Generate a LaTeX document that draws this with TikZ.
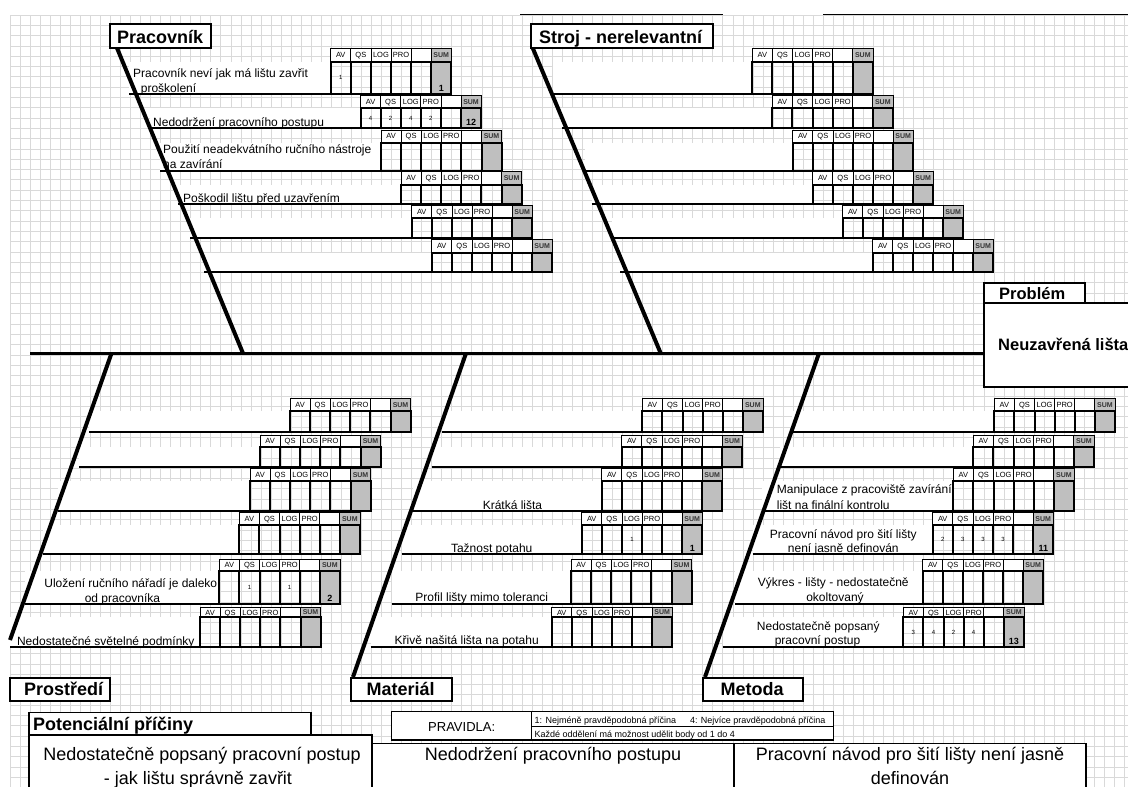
\documentclass[tikz,border=0pt]{standalone}
\usepackage{fontspec}
\setmainfont{Liberation Sans}
\usetikzlibrary{calc}

% width of one score column
\newcommand\colw{20.1}

% one cause row: #1 name, #2 left end of the branch line, #3 left edge of the score table,
% #4 top of the header row, #5 bottom of the header row, #6 branch line (bottom of the value row)
\newcommand\causerow[6]{%
  \fill[white] (#2,#5) rectangle (#3,#6);
  \coordinate (#1-a) at (#2,#6);
  \coordinate (#1-b) at ({#3+6*\colw},#6);
  \draw[branch] (#1-a) -- (#1-b);
  \foreach \ci/\lab in {0/AV,1/QS,2/LOG,3/PRO,4/{}}{%
    \draw[hdrcell] ({#3+\ci*\colw},#4) rectangle ({#3+(\ci+1)*\colw},#5);
    \node[hdrtext] (#1-h\ci) at ({#3+(\ci+0.5)*\colw},{(#4+#5)/2}) {\lab};
  }
  \draw[sumhdr] ({#3+5*\colw},#4) rectangle ({#3+6*\colw},#5);
  \node[sumtext] (#1-h5) at ({#3+5.5*\colw},{(#4+#5)/2}) {SUM};
  \foreach \ci in {0,...,4}{%
    \draw[valcell] ({#3+\ci*\colw},#5) rectangle ({#3+(\ci+1)*\colw},#6);
    \coordinate (#1-v\ci) at ({#3+(\ci+0.5)*\colw},{(#5+#6)/2});
  }
  \draw[sumval] ({#3+5*\colw},#5) rectangle ({#3+6*\colw},#6);
  \coordinate (#1-s) at ({#3+5.5*\colw},{#6-2.5});
}

\begin{document}
\begin{tikzpicture}[x=1pt,y=-1pt,
  gridline/.style={draw=black!15,line width=0.7pt},
  bone/.style={line width=4pt},
  spine/.style={line width=3.5pt},
  branch/.style={line width=2pt},
  hdrcell/.style={draw=black,line width=0.8pt,fill=white},
  sumhdr/.style={hdrcell,fill=black!25},
  valcell/.style={draw=black,line width=2pt},
  sumval/.style={valcell,fill=black!25},
  hdrtext/.style={font=\fontsize{7.5}{8}\selectfont,inner sep=0pt,text height=5.4pt,text depth=0pt},
  sumtext/.style={font=\bfseries\fontsize{7}{8}\selectfont,inner sep=0pt,text=black!80,text height=5pt,text depth=0pt},
  valtext/.style={font=\fontsize{6}{7}\selectfont,inner sep=0pt,text height=4.3pt,text depth=0pt},
  sumnum/.style={font=\bfseries\fontsize{9}{10}\selectfont,inner sep=0pt,anchor=base},
  cause/.style={font=\fontsize{12}{14}\selectfont,inner sep=0pt,anchor=base},
  causel/.style={cause,anchor=base west},
  catbox/.style={draw=black,line width=1.8pt,fill=white},
  catlabel/.style={font=\bfseries\fontsize{18}{20}\selectfont,inner sep=0pt,anchor=base west},
  probbox/.style={draw=black,line width=1.3pt,fill=white},
  problabel/.style={font=\bfseries\fontsize{16.5}{18}\selectfont,inner sep=0pt,anchor=base west},
  tblbox/.style={draw=black,line width=1.3pt,fill=white},
  bigtext/.style={font=\fontsize{18}{20}\selectfont,inner sep=0pt,anchor=base},
  ruletext/.style={font=\fontsize{9}{10}\selectfont,inner sep=0pt,anchor=base west},
]
\clip (0,0) rectangle (1128,787);
\fill[white] (0,0) rectangle (1128,787);

% sheet grid
\foreach \i in {0,...,111} \draw[gridline] ({10+\i*10.04},15) -- ({10+\i*10.04},787);
\foreach \j in {0,...,75} \draw[gridline] (10,{15+\j*10.3}) -- (1128,{15+\j*10.3});
\draw[line width=0.8pt] (520,14.7) -- (723,14.7);
\draw[line width=0.8pt] (823,14.7) -- (1128,14.7);

% ---------- Pracovník ----------
\causerow{pr1}{129}{330.7}{48.7}{61.5}{93.7}
\causerow{pr2}{150}{360.5}{95.5}{108.3}{128}
\causerow{pr3}{160}{381}{130}{142.5}{170.7}
\causerow{pr4}{178}{401}{171.7}{184.5}{204.2}
\causerow{pr5}{190}{411.7}{205.8}{218.2}{238}
\causerow{pr6}{204}{431.7}{239.7}{252.5}{272}

% ---------- Stroj ----------
\causerow{st1}{553}{752.3}{48.7}{61.5}{93.7}
\causerow{st2}{561.7}{772.3}{95.5}{108.3}{128}
\causerow{st3}{585}{792.7}{130}{142.5}{170.7}
\causerow{st4}{591.7}{812.7}{171.7}{184.5}{204.2}
\causerow{st5}{612}{842.7}{205.8}{218.2}{238}
\causerow{st6}{620}{872.7}{239.7}{252.5}{272}

% ---------- Prostředí ----------
\causerow{ps1}{89.3}{290}{398.5}{410.7}{432.3}
\causerow{ps2}{79.3}{260}{435.5}{446.7}{467.3}
\causerow{ps3}{58.3}{250}{468.8}{481}{510.7}
\causerow{ps4}{42.7}{239.3}{512.5}{525}{554.3}
\causerow{ps5}{25}{219.3}{559.5}{571}{603.7}
\causerow{ps6}{10}{200}{607.3}{617.3}{646.7}

% ---------- Materiál ----------
\causerow{ma1}{441.7}{642.3}{398.5}{410.7}{432.3}
\causerow{ma2}{431.7}{621.7}{435.5}{446.7}{467.3}
\causerow{ma3}{413.3}{601.7}{468.8}{481}{510.7}
\causerow{ma4}{401.7}{581.7}{512.5}{525}{554.3}
\causerow{ma5}{391.7}{571}{559.5}{571}{603.7}
\causerow{ma6}{370.7}{551.7}{607.3}{617.3}{646.7}

% ---------- Metoda ----------
\causerow{me1}{792}{994.3}{398.5}{410.7}{432.3}
\causerow{me2}{780}{973.3}{435.5}{446.7}{467.3}
\causerow{me3}{761.7}{953.3}{468.8}{481}{510.7}
\causerow{me4}{752.7}{932.7}{512.5}{525}{554.3}
\causerow{me5}{735}{922.7}{559.5}{571}{603.7}
\causerow{me6}{722.7}{903.3}{607.3}{617.3}{646.7}

% cause texts
\node[causel] (c-pr1a) at (133,77.5) {Pracovník neví jak má lištu zavřit};
\node[causel] (c-pr1b) at (140.7,92) {proškolení};
\node[causel] (c-pr2) at (153,126) {Nedodržení pracovního postupu};
\node[causel] (c-pr3a) at (163,153.5) {Použití neadekvátního ručního nástroje};
\node[causel] (c-pr3b) at (163,168.5) {na zavírání};
\node[causel] (c-pr4) at (183,202) {Poškodil lištu před uzavřením};

\node[cause] (c-ps5a) at (130.8,587.5) {Uložení ručního nářadí je daleko};
\node[cause] (c-ps5b) at (122.5,602) {od pracovníka};
\node[cause] (c-ps6) at (105.8,645) {Nedostatečné světelné podmínky};

\node[cause] (c-ma3) at (512.5,509) {Krátká lišta};
\node[cause] (c-ma4) at (491.7,552.5) {Tažnost potahu};
\node[cause] (c-ma5) at (481.8,601.5) {Profil lišty mimo toleranci};
\node[cause] (c-ma6) at (466.7,644.5) {Křivě našitá lišta na potahu};

\node[causel] (c-me3a) at (776.7,493.5) {Manipulace z pracoviště zavírání};
\node[causel] (c-me3b) at (776.7,509) {lišt na finální kontrolu};
\node[cause] (c-me4a) at (843.3,538) {Pracovní návod pro šití lišty};
\node[cause] (c-me4b) at (843.3,552.5) {není jasně definován};
\node[cause] (c-me5a) at (833.3,586.5) {Výkres - lišty - nedostatečně};
\node[cause] (c-me5b) at (835,601.5) {okoltovaný};
\node[cause] (c-me6a) at (818.3,630) {Nedostatečně popsaný};
\node[cause] (c-me6b) at (817.5,644.5) {pracovní postup};

% scores
\node[valtext] (n-pr1-0) at (pr1-v0) {1};
\node[sumnum] (n-pr1-s) at (pr1-s) {1};
\node[valtext] (n-pr2-0) at (pr2-v0) {4};
\node[valtext] (n-pr2-1) at (pr2-v1) {2};
\node[valtext] (n-pr2-2) at (pr2-v2) {4};
\node[valtext] (n-pr2-3) at (pr2-v3) {2};
\node[sumnum] (n-pr2-s) at (pr2-s) {12};
\node[valtext] (n-ps5-1) at (ps5-v1) {1};
\node[valtext] (n-ps5-3) at (ps5-v3) {1};
\node[sumnum] (n-ps5-s) at (ps5-s) {2};
\node[valtext] (n-ma4-2) at (ma4-v2) {1};
\node[sumnum] (n-ma4-s) at (ma4-s) {1};
\node[valtext] (n-me4-0) at (me4-v0) {2};
\node[valtext] (n-me4-1) at (me4-v1) {3};
\node[valtext] (n-me4-2) at (me4-v2) {3};
\node[valtext] (n-me4-3) at (me4-v3) {3};
\node[sumnum] (n-me4-s) at (me4-s) {11};
\node[valtext] (n-me6-0) at (me6-v0) {3};
\node[valtext] (n-me6-1) at (me6-v1) {4};
\node[valtext] (n-me6-2) at (me6-v2) {2};
\node[valtext] (n-me6-3) at (me6-v3) {4};
\node[sumnum] (n-me6-s) at (me6-s) {13};

% spine and bones
\coordinate (spineL) at (30,353.3);
\coordinate (spineR) at (984,353.3);
\coordinate (prTop) at (117,48);     \coordinate (prFoot) at (243,353.3);
\coordinate (stTop) at (532.7,48);   \coordinate (stFoot) at (660.7,353.3);
\coordinate (psFoot) at (111.5,353.3); \coordinate (psEnd) at (10,640);
\coordinate (maFoot) at (466,353.3); \coordinate (maEnd) at (353,677);
\coordinate (meFoot) at (819,353.3); \coordinate (meEnd) at (705,677);
\draw[spine] (spineL) -- (spineR);
\draw[bone] (prTop) -- (prFoot);
\draw[bone] (stTop) -- (stFoot);
\draw[bone] (psFoot) -- (psEnd);
\draw[bone] (maFoot) -- (maEnd);
\draw[bone] (meFoot) -- (meEnd);

% category labels
\draw[catbox] (110,24.3) rectangle (210.7,48.3);
\node[catlabel] (pracovnik) at (117,43) {Pracovník};
\draw[catbox] (531,23.7) rectangle (712.7,48.3);
\node[catlabel] (stroj) at (539,43) {Stroj - nerelevantní};
\draw[catbox] (10,678) rectangle (110,701);
\node[catlabel] (prostredi) at (24,695) {Prostředí};
\draw[catbox] (351,678) rectangle (452,701);
\node[catlabel] (material) at (366.5,695) {Materiál};
\draw[catbox] (703,678) rectangle (803,701);
\node[catlabel] (metoda) at (720.5,695) {Metoda};

% problem
\draw[probbox] (984,283) rectangle (1085,303);
\node[problabel] (problemhead) at (999,299) {Problém};
\draw[probbox] (984,303) rectangle (1140,387);
\node[problabel] (problem) at (998,350) {Neuzavřená lišta};

% potential causes and rules
\draw[tblbox] (29,712.6) rectangle (311,735);
\node[font=\bfseries\fontsize{18}{20}\selectfont,inner sep=0pt,anchor=base west] (pothead) at (33,730.5) {Potenciální příčiny};
\draw[tblbox] (29,735) rectangle (372,800);
\draw[tblbox] (372,743.5) rectangle (734,800);
\draw[tblbox] (734,743.5) rectangle (1086,800);
\node[bigtext] (pc1a) at (202,760) {Nedostatečně popsaný pracovní postup};
\node[bigtext] (pc1b) at (198,784) {- jak lištu správně zavřit};
\node[bigtext] (pc2) at (553,760) {Nedodržení pracovního postupu};
\node[bigtext] (pc3a) at (910,760) {Pracovní návod pro šití lišty není jasně};
\node[bigtext] (pc3b) at (910,784) {definován};

\draw[tblbox] (391.7,711.7) rectangle (833.3,740);
\draw[line width=1pt] (531.7,711.7) -- (531.7,740);
\draw[line width=1pt] (531.7,726.5) -- (833.3,726.5);
\node[font=\fontsize{13}{14}\selectfont,inner sep=0pt,anchor=base] (rules) at (461.7,731.5) {PRAVIDLA:};
\node[ruletext] (rule1) at (534.5,723.5) {1: Nejméně pravděpodobná příčina\hspace{14pt}4: Nejvíce pravděpodobná příčina};
\node[ruletext] (rule2) at (534.5,737.5) {Každé oddělení má možnost udělit body od 1 do 4};
\end{tikzpicture}
\end{document}
